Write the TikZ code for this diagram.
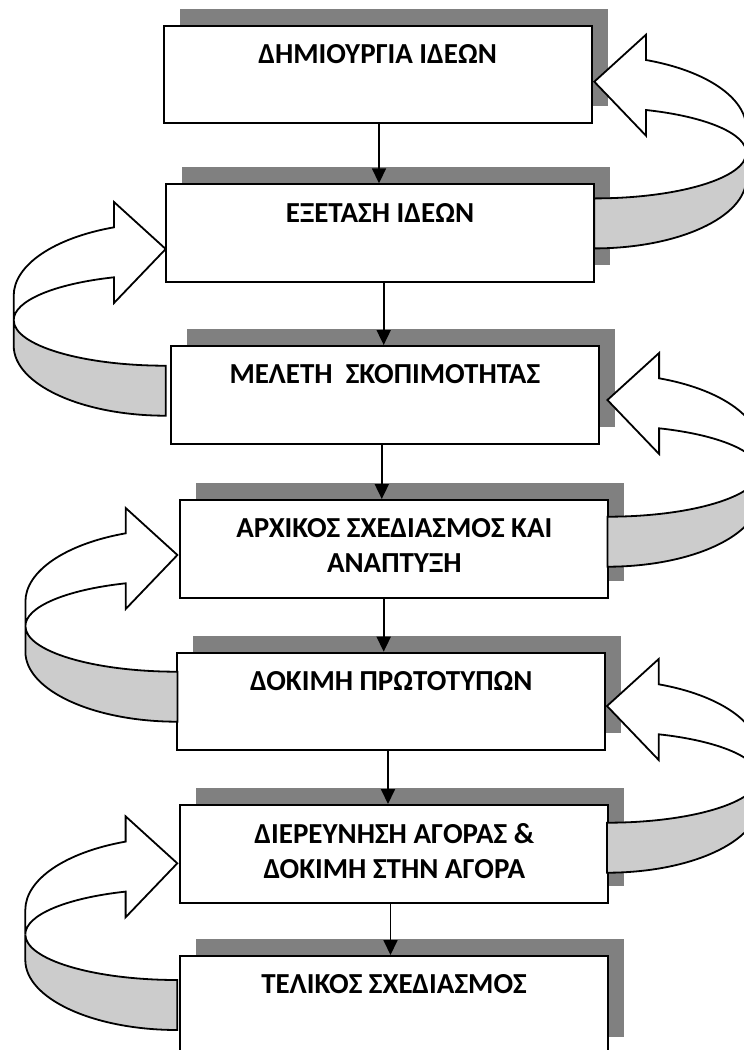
\documentclass[tikz,border=0pt]{standalone}
\usepackage{fontspec}
\setmainfont{Carlito}[BoldFont={Carlito Bold}]
\usetikzlibrary{positioning,shadows,arrows.meta}
\definecolor{shadowgray}{HTML}{808080}
\definecolor{bandgray}{HTML}{CCCCCC}
\tikzset{
	stage/.style={draw, line width=1pt, fill=white, inner sep=0pt,
		minimum width=214pt, minimum height=48.8pt,
		drop shadow={shadow xshift=8pt, shadow yshift=8.5pt, fill=shadowgray, opacity=1}},
	stagetext/.style={inner sep=0pt, align=center, font=\fontsize{14.5}{17.5}\selectfont\bfseries},
	flow/.style={line width=0.9pt, -{Triangle[length=7.5pt,width=7pt]}},
	bendarrow/.pic={
		% white top of the ribbon with its head
		\filldraw[fill=white, line width=0.9pt, line join=miter]
			(0,0) -- (51.7,-47) -- (51.7,-21.7)
			.. controls (111.7,-11.1) and (152,16.1) .. (152,46.7)
			-- (152,71.1)
			.. controls (152,51.9) and (111.7,34.8) .. (51.7,28.3)
			-- (51.7,54) -- cycle;
		% grey back of the ribbon
		\filldraw[fill=bandgray, line width=0.9pt]
			(152,71.1) -- (152,96.7)
			.. controls (152,135.4) and (83.9,166.7) .. (0,166.7)
			-- (0,116.7)
			.. controls (83.9,116.7) and (152,96.3) .. cycle;
	}
}

\begin{document}
\begin{tikzpicture}[x=0.5pt, y=-0.5pt]
	\useasboundingbox (0,0) rectangle (744,1050);
	\foreach \n/\x/\y in {1/377.6/74.5, 2/380/233.1, 3/384.8/394.8, 4/394.3/548.8, 5/391.3/701.5, 6/394.3/853.8, 7/394/1004.8}
	\node[stage] (b\n) at (\x,\y) {};
	\node[stagetext, below=9.7pt of b1.north] (t1) {ΔΗΜΙΟΥΡΓΙΑ ΙΔΕΩΝ};
	\node[stagetext, below=9.7pt of b2.north] (t2) {ΕΞΕΤΑΣΗ ΙΔΕΩΝ};
	\node[stagetext, below=9.7pt of b3.north] (t3) {ΜΕΛΕΤΗ\ \ ΣΚΟΠΙΜΟΤΗΤΑΣ};
	\node[stagetext, below=9.7pt of b4.north] (t4) {ΑΡΧΙΚΟΣ ΣΧΕΔΙΑΣΜΟΣ ΚΑΙ\\ΑΝΑΠΤΥΞΗ};
	\node[stagetext, below=9.7pt of b5.north] (t5) {ΔΟΚΙΜΗ ΠΡΩΤΟΤΥΠΩΝ};
	\node[stagetext, below=9.7pt of b6.north] (t6) {ΔΙΕΡΕΥΝΗΣΗ ΑΓΟΡΑΣ \&\\ΔΟΚΙΜΗ ΣΤΗΝ ΑΓΟΡΑ};
	\node[stagetext, below=9.7pt of b7.north] (t7) {ΤΕΛΙΚΟΣ ΣΧΕΔΙΑΣΜΟΣ};
	\foreach \a/\b/\dx in {1/2/0.7, 2/3/1.85, 3/4/-1.5, 4/5/-5.3, 5/6/-1.65, 6/7/-1.9}
	\draw[flow] ([xshift=\dx pt]b\a.south) -- ([xshift=\dx pt]b\a.south |- b\b.north);
	% feedback loops
	\pic at ([xshift=0.85pt,yshift=-3.6pt]b1.east) {bendarrow};
	\pic[xscale=-1] at ([xshift=0.35pt,yshift=-7.95pt]b2.west) {bendarrow};
	\pic at ([xshift=3.8pt,yshift=-2.6pt]b3.east) {bendarrow};
	\pic[xscale=-1] at ([xshift=-0.95pt,yshift=-3.1pt]b4.west) {bendarrow};
	\pic at ([xshift=0.35pt,yshift=-2.25pt]b5.east) {bendarrow};
	\pic[xscale=-1] at ([xshift=-1pt,yshift=-4.75pt]b6.west) {bendarrow};
\end{tikzpicture}
\end{document}
